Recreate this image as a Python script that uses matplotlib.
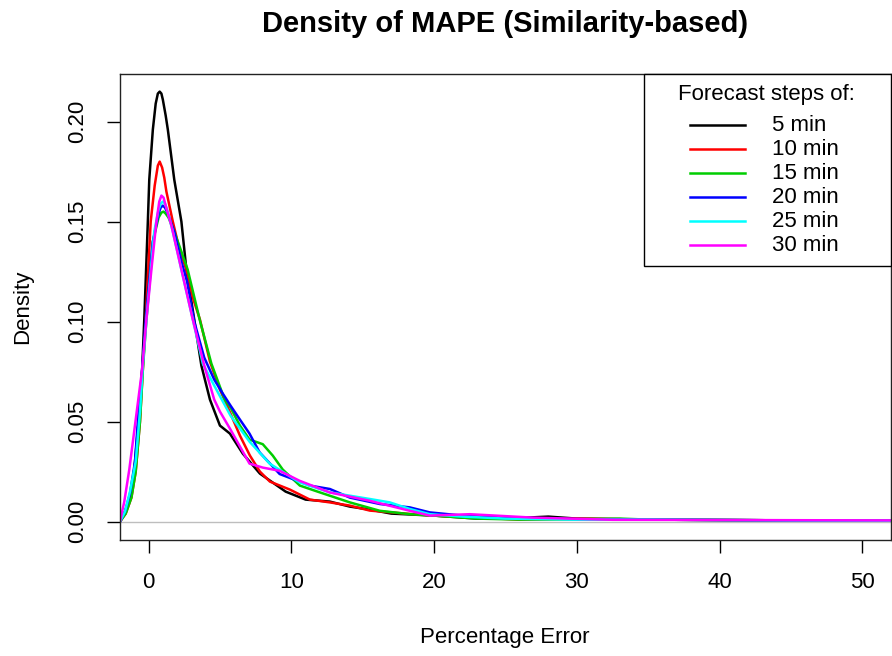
import numpy as np
import matplotlib
matplotlib.use('Agg')
import matplotlib.pyplot as plt
from matplotlib.patches import Rectangle

plt.rcParams['font.family'] = ['Liberation Sans', 'DejaVu Sans']
fontsize = 16

# density curves (x = percentage error, y = density)
x5 = [-2.0, -1.7, -1.3, -1.0, -0.7, -0.45, -0.3, -0.05, 0.05, 0.3, 0.5, 0.65, 0.78, 0.9, 1.0, 1.2, 1.35,
      1.8, 2.3, 2.65, 3.2, 3.7, 4.3, 5.0, 5.7, 6.6, 7.8, 9.6, 11.0, 12.7, 14.1, 15.5, 17.0, 20.0, 23.0,
      25.0, 28.0, 30.0, 35.0, 40.0, 45.0, 52.0]
y5 = [0, 0.004, 0.012, 0.026, 0.050, 0.076, 0.101, 0.150, 0.171, 0.196, 0.209, 0.214, 0.215, 0.214,
      0.211, 0.203, 0.196, 0.171, 0.150, 0.126, 0.101, 0.078, 0.061, 0.048, 0.044, 0.034, 0.024, 0.015,
      0.011, 0.010, 0.0075, 0.006, 0.004, 0.003, 0.0015, 0.0015, 0.0025, 0.0015, 0.001, 0.0008, 0.0006,
      0.0005]

x10 = [-2.0, -1.6, -1.2, -0.9, -0.6, -0.4, -0.2, 0.15, 0.43, 0.65, 0.78, 0.95, 1.1, 1.25, 1.7, 2.2, 2.65,
       3.1, 3.6, 4.3, 5.0, 5.74, 6.4, 7.1, 7.8, 8.5, 9.9, 11.3, 12.7, 14.1, 15.5, 18.0, 20.0, 23.0, 26.0,
       30.0, 35.0, 40.0, 45.0, 52.0]
y10 = [0, 0.004, 0.012, 0.025, 0.050, 0.076, 0.101, 0.150, 0.168, 0.178, 0.180, 0.177, 0.172, 0.165,
       0.150, 0.135, 0.126, 0.112, 0.101, 0.080, 0.066, 0.054, 0.043, 0.033, 0.025, 0.020, 0.016, 0.011,
       0.0096, 0.008, 0.0055, 0.004, 0.003, 0.002, 0.001, 0.0015, 0.001, 0.0008, 0.0006, 0.0005]

x15 = [-2.0, -1.6, -1.2, -0.9, -0.6, -0.4, -0.15, 0.3, 0.7, 0.9, 1.05, 1.2, 1.4, 1.8, 2.3, 2.74, 3.58,
       4.4, 5.33, 5.74, 6.4, 7.07, 8.0, 8.7, 9.4, 10.6, 12.0, 14.1, 16.2, 18.3, 20.0, 23.0, 26.0, 30.0,
       33.0, 35.0, 40.0, 45.0, 52.0]
y15 = [0, 0.004, 0.012, 0.025, 0.050, 0.076, 0.101, 0.140, 0.152, 0.1545, 0.155, 0.154, 0.152, 0.145,
       0.135, 0.126, 0.101, 0.079, 0.061, 0.057, 0.048, 0.041, 0.0387, 0.033, 0.026, 0.018, 0.0146,
       0.0096, 0.0054, 0.0037, 0.003, 0.0015, 0.001, 0.0012, 0.0015, 0.001, 0.0008, 0.0006, 0.0005]

x20 = [-2.0, -1.65, -1.3, -0.95, -0.7, -0.45, -0.2, 0.3, 0.7, 0.85, 1.0, 1.15, 1.35, 1.8, 2.3, 2.7, 3.2,
       3.9, 4.6, 5.2, 5.74, 6.4, 7.07, 7.78, 9.18, 11.3, 12.7, 14.1, 16.2, 18.3, 19.7, 22.0, 25.0, 30.0,
       35.0, 40.0, 45.0, 52.0]
y20 = [0, 0.005, 0.014, 0.030, 0.055, 0.076, 0.101, 0.140, 0.154, 0.157, 0.158, 0.157, 0.154, 0.145,
       0.130, 0.120, 0.100, 0.082, 0.071, 0.064, 0.058, 0.051, 0.044, 0.0346, 0.0238, 0.018, 0.0163,
       0.012, 0.0088, 0.0071, 0.0046, 0.003, 0.002, 0.0012, 0.001, 0.0008, 0.0006, 0.0005]

x25 = [-2.0, -1.65, -1.3, -0.9, -0.6, -0.4, -0.1, 0.4, 0.7, 0.85, 1.0, 1.15, 1.3, 1.7, 2.3, 3.1, 3.8,
       4.6, 5.74, 7.07, 8.48, 10.58, 12.7, 15.5, 16.9, 18.3, 19.7, 22.0, 25.0, 30.0, 35.0, 40.0, 45.0,
       52.0]
y25 = [0, 0.005, 0.015, 0.030, 0.055, 0.078, 0.105, 0.145, 0.156, 0.159, 0.160, 0.159, 0.156, 0.145,
       0.126, 0.101, 0.079, 0.068, 0.053, 0.040, 0.029, 0.0196, 0.0146, 0.0113, 0.0096, 0.0063, 0.0037,
       0.0025, 0.0015, 0.001, 0.001, 0.0008, 0.0006, 0.0005]

x30 = [-2.0, -1.7, -1.35, -0.9, -0.45, -0.15, 0.2, 0.55, 0.75, 0.9, 1.05, 1.2, 1.6, 2.3, 3.1, 3.9, 4.6,
       5.0, 5.74, 7.07, 8.0, 9.18, 10.58, 12.68, 15.5, 18.3, 19.7, 22.5, 26.9, 32.5, 40.0, 45.0, 52.0]
y30 = [0, 0.010, 0.026, 0.051, 0.076, 0.101, 0.126, 0.150, 0.160, 0.163, 0.162, 0.158, 0.148, 0.126,
       0.101, 0.078, 0.061, 0.055, 0.046, 0.029, 0.027, 0.0254, 0.0204, 0.0146, 0.0104, 0.0054, 0.003,
       0.0037, 0.002, 0.0009, 0.0008, 0.0007, 0.0006]

labels = ['5 min', '10 min', '15 min', '20 min', '25 min', '30 min']
colors = ['black', '#FF0000', '#00CD00', '#0000FF', '#00FFFF', '#FF00FF']
xs = [x5, x10, x15, x20, x25, x30]
ys = [y5, y10, y15, y20, y25, y30]

fig = plt.figure(figsize=(8.92, 6.56), dpi=100)
ax = fig.add_axes([120/892, 1-540/656, 771/892, 466/656])

ax.axhline(0, color='#BEBEBE', lw=1, zorder=1)
for x, y, c in zip(xs, ys, colors):
    ax.plot(x, y, color=c, lw=1.8, zorder=2)

ax.set_xlim(-2, 52)
ax.set_ylim(-0.0092, 0.2238)
ax.set_xticks([0, 10, 20, 30, 40, 50])
ax.set_yticks([0, 0.05, 0.10, 0.15, 0.20])
ax.set_yticklabels(['0.00', '0.05', '0.10', '0.15', '0.20'], rotation=90, va='center')
ax.tick_params(direction='out', length=9.5, width=1, labelsize=fontsize, pad=13.5)
for s in ax.spines.values():
    s.set_color('#222222')
    s.set_linewidth(1)

fig.text(505/892, 1-24/656, 'Density of MAPE (Similarity-based)', ha='center', va='center',
         fontsize=21, fontweight='bold')
fig.text(505/892, 1-637/656, 'Percentage Error', ha='center', va='center', fontsize=fontsize)
fig.text(23/892, 1-307/656, 'Density', ha='center', va='center', rotation=90, fontsize=fontsize)

# legend box drawn by hand (R-style)
ax.add_patch(Rectangle((0.6796, 0.588), 0.3204, 0.412, transform=ax.transAxes, fill=True,
                       facecolor='white', edgecolor='black', lw=1, zorder=5, clip_on=False))
ax.text(0.839, 0.955, 'Forecast steps of:', transform=ax.transAxes, ha='center', va='center',
        fontsize=fontsize, zorder=6)
for i, (lab, c) in enumerate(zip(labels, colors)):
    yy = 0.890 - 0.0515*i
    ax.plot([0.739, 0.8106], [yy, yy], transform=ax.transAxes, color=c, lw=1.8, zorder=6,
            clip_on=False)
    ax.text(0.8457, yy, lab, transform=ax.transAxes, ha='left', va='center', fontsize=fontsize,
            zorder=6)

plt.savefig('out.png', dpi=100)
